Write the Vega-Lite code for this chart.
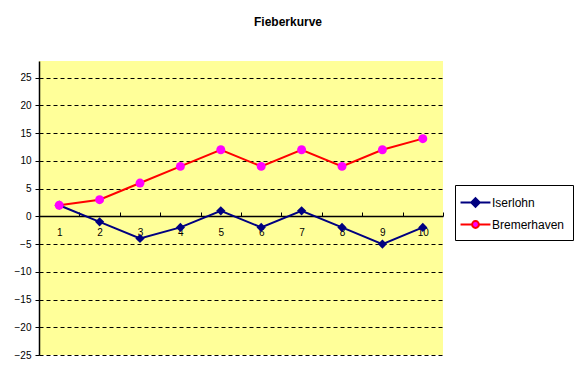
{
  "$schema": "https://vega.github.io/schema/vega-lite/v6.json",
  "width": 404,
  "height": 294,
  "autosize": {"type": "none"},
  "padding": {"left": 39, "top": 61, "right": 139, "bottom": 26},
  "background": "white",
  "title": {"text": "Fieberkurve", "font": "Liberation Sans", "fontSize": 12, "fontWeight": "bold", "anchor": "middle", "frame": "group", "dx": 47, "offset": 32, "color": "black"},
  "config": {
    "view": {"fill": "#FFFF99", "stroke": null},
    "axis": {"labelFont": "Liberation Sans", "labelFontSize": 10, "labelColor": "black", "domainColor": "black", "tickColor": "black", "title": null}
  },
  "data": {"values": [
    {"x": 1, "series": "Iserlohn", "value": 2},
    {"x": 2, "series": "Iserlohn", "value": -1},
    {"x": 3, "series": "Iserlohn", "value": -4},
    {"x": 4, "series": "Iserlohn", "value": -2},
    {"x": 5, "series": "Iserlohn", "value": 1},
    {"x": 6, "series": "Iserlohn", "value": -2},
    {"x": 7, "series": "Iserlohn", "value": 1},
    {"x": 8, "series": "Iserlohn", "value": -2},
    {"x": 9, "series": "Iserlohn", "value": -5},
    {"x": 10, "series": "Iserlohn", "value": -2},
    {"x": 1, "series": "Bremerhaven", "value": 2},
    {"x": 2, "series": "Bremerhaven", "value": 3},
    {"x": 3, "series": "Bremerhaven", "value": 6},
    {"x": 4, "series": "Bremerhaven", "value": 9},
    {"x": 5, "series": "Bremerhaven", "value": 12},
    {"x": 6, "series": "Bremerhaven", "value": 9},
    {"x": 7, "series": "Bremerhaven", "value": 12},
    {"x": 8, "series": "Bremerhaven", "value": 9},
    {"x": 9, "series": "Bremerhaven", "value": 12},
    {"x": 10, "series": "Bremerhaven", "value": 14}
  ]},
  "encoding": {
    "x": {"field": "x", "type": "ordinal", "scale": {"type": "band", "paddingInner": 0, "paddingOuter": 0},
      "axis": {"labelAngle": 0, "offset": -139, "tickBand": "extent", "tickSize": -4, "labelPadding": 15, "grid": false, "domainWidth": 1.5}},
    "y": {"field": "value", "type": "quantitative", "scale": {"domain": [-25, 28], "nice": false, "zero": false},
      "axis": {"values": [-25, -20, -15, -10, -5, 0, 5, 10, 15, 20, 25], "grid": true, "gridColor": "black", "gridDash": [4, 3], "gridOpacity": 1, "tickSize": 4, "labelPadding": 4, "domainWidth": 1.5}}
  },
  "layer": [
    {
      "mark": {"type": "line", "strokeWidth": 2},
      "encoding": {
        "stroke": {"field": "series", "type": "nominal",
          "scale": {"domain": ["Iserlohn", "Bremerhaven"], "range": ["#000080", "#FF0000"]},
          "legend": {"title": null, "orient": "none", "legendX": 416, "legendY": 124,
            "strokeColor": "black", "fillColor": "white", "padding": 8,
            "labelFont": "Liberation Sans", "labelFontSize": 12, "labelColor": "black",
            "symbolSize": 289, "rowPadding": 4, "labelOffset": 7, "symbolOffset": 3,
            "encode": {"symbols": {"update": {
              "shape": {"signal": "datum.value === 'Iserlohn' ? 'M-1.76,0H-0.5M0.5,0H1.76M0,-0.5L0.5,0L0,0.5L-0.5,0Z' : 'M-1.76,0H-0.4M0.4,0H1.76M0.4,0A0.4,0.4 0 1,1 -0.4,0A0.4,0.4 0 1,1 0.4,0Z'"},
              "stroke": {"signal": "datum.value === 'Iserlohn' ? '#000080' : '#FF0000'"},
              "fill": {"signal": "datum.value === 'Iserlohn' ? '#000080' : '#FF00FF'"},
              "fillOpacity": {"value": 1},
              "strokeWidth": {"value": 2}
            }}}}
        },
        "order": {"field": "x", "type": "quantitative"}
      }
    },
    {
      "transform": [{"filter": "datum.series === 'Iserlohn'"}],
      "mark": {"type": "point", "filled": true, "opacity": 1, "size": 85, "shape": "diamond", "color": "#000080"}
    },
    {
      "transform": [{"filter": "datum.series === 'Bremerhaven'"}],
      "mark": {"type": "point", "filled": true, "opacity": 1, "size": 80, "shape": "circle", "color": "#FF00FF"}
    }
  ]
}
